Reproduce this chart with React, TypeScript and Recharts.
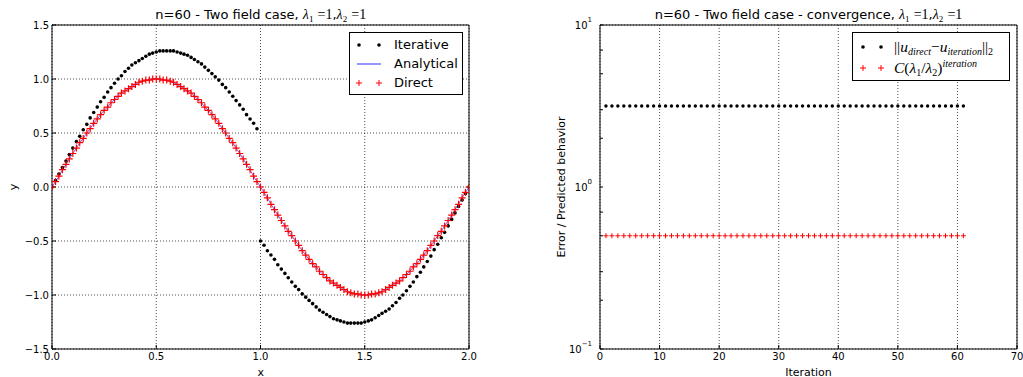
import React from 'react';
import { ComposedChart, Scatter, Line, XAxis, YAxis, CartesianGrid } from 'recharts';

// x grid of the two fields (n = 60 points each), 0 .. 2
const xs = [
  0, 0.017, 0.033, 0.05, 0.067, 0.083, 0.1, 0.117, 0.133, 0.15, 0.167, 0.183,
  0.2, 0.217, 0.233, 0.25, 0.267, 0.283, 0.3, 0.317, 0.333, 0.35, 0.367, 0.383,
  0.4, 0.417, 0.433, 0.45, 0.467, 0.483, 0.5, 0.517, 0.533, 0.55, 0.567, 0.583,
  0.6, 0.617, 0.633, 0.65, 0.667, 0.683, 0.7, 0.717, 0.733, 0.75, 0.767, 0.783,
  0.8, 0.817, 0.833, 0.85, 0.867, 0.883, 0.9, 0.917, 0.933, 0.95, 0.967, 0.983,
  1, 1.017, 1.033, 1.05, 1.067, 1.083, 1.1, 1.117, 1.133, 1.15, 1.167, 1.183,
  1.2, 1.217, 1.233, 1.25, 1.267, 1.283, 1.3, 1.317, 1.333, 1.35, 1.367, 1.383,
  1.4, 1.417, 1.433, 1.45, 1.467, 1.483, 1.5, 1.517, 1.533, 1.55, 1.567, 1.583,
  1.6, 1.617, 1.633, 1.65, 1.667, 1.683, 1.7, 1.717, 1.733, 1.75, 1.767, 1.783,
  1.8, 1.817, 1.833, 1.85, 1.867, 1.883, 1.9, 1.917, 1.933, 1.95, 1.967, 1.983,
  2,
];

// analytical curve (the direct solution sits on it)
const analytical = [
  0, 0.05, 0.1, 0.16, 0.21, 0.26, 0.31, 0.36, 0.41, 0.45, 0.5, 0.54, 0.59, 0.63, 0.67, 0.71,
  0.74, 0.78, 0.81, 0.84, 0.87, 0.89, 0.91, 0.93, 0.95, 0.97, 0.98, 0.99, 0.99, 1.0, 1.0,
  1.0, 0.99, 0.99, 0.98, 0.97, 0.95, 0.93, 0.91, 0.89, 0.87, 0.84, 0.81, 0.78, 0.74, 0.71,
  0.67, 0.63, 0.59, 0.54, 0.5, 0.45, 0.41, 0.36, 0.31, 0.26, 0.21, 0.16, 0.1, 0.05, 0,
  -0.05, -0.1, -0.16, -0.21, -0.26, -0.31, -0.36, -0.41, -0.45, -0.5, -0.54, -0.59, -0.63, -0.67, -0.71,
  -0.74, -0.78, -0.81, -0.84, -0.87, -0.89, -0.91, -0.93, -0.95, -0.97, -0.98, -0.99, -0.99, -1.0, -1.0,
  -1.0, -0.99, -0.99, -0.98, -0.97, -0.95, -0.93, -0.91, -0.89, -0.87, -0.84, -0.81, -0.78, -0.74, -0.71,
  -0.67, -0.63, -0.59, -0.54, -0.5, -0.45, -0.41, -0.36, -0.31, -0.26, -0.21, -0.16, -0.1, -0.05, 0,
];

const iterative = [
  0, 0.06, 0.12, 0.18, 0.24, 0.3, 0.36, 0.42, 0.47, 0.53, 0.58, 0.64, 0.69, 0.74, 0.79,
  0.83, 0.88, 0.92, 0.96, 1.0, 1.03, 1.07, 1.1, 1.13, 1.15, 1.17, 1.19, 1.21, 1.23, 1.24,
  1.25, 1.26, 1.26, 1.26, 1.26, 1.26, 1.25, 1.24, 1.23, 1.22, 1.2, 1.18, 1.16, 1.14, 1.11,
  1.08, 1.05, 1.02, 0.99, 0.95, 0.92, 0.88, 0.84, 0.8, 0.76, 0.72, 0.67, 0.63, 0.59, 0.54,
  -0.5, -0.54, -0.59, -0.63, -0.67, -0.72, -0.76, -0.8, -0.84, -0.88, -0.92, -0.95, -0.99, -1.02, -1.05,
  -1.08, -1.11, -1.14, -1.16, -1.18, -1.2, -1.22, -1.23, -1.24, -1.25, -1.26, -1.26, -1.26, -1.26, -1.26,
  -1.25, -1.24, -1.23, -1.21, -1.19, -1.17, -1.15, -1.13, -1.1, -1.07, -1.03, -1.0, -0.96, -0.92, -0.88,
  -0.83, -0.79, -0.74, -0.69, -0.64, -0.58, -0.53, -0.47, -0.42, -0.36, -0.3, -0.24, -0.18, -0.12, -0.06, 0,
];

const iterations = [
  1, 2, 3, 4, 5, 6, 7, 8, 9, 10, 11, 12, 13, 14, 15, 16, 17, 18, 19, 20,
  21, 22, 23, 24, 25, 26, 27, 28, 29, 30, 31, 32, 33, 34, 35, 36, 37, 38, 39, 40,
  41, 42, 43, 44, 45, 46, 47, 48, 49, 50, 51, 52, 53, 54, 55, 56, 57, 58, 59, 60, 61,
];

const errorNorm = [
  3.16, 3.16, 3.16, 3.16, 3.16, 3.16, 3.16, 3.16, 3.16, 3.16, 3.16, 3.16, 3.16, 3.16, 3.16, 3.16, 3.16, 3.16, 3.16, 3.16,
  3.16, 3.16, 3.16, 3.16, 3.16, 3.16, 3.16, 3.16, 3.16, 3.16, 3.16, 3.16, 3.16, 3.16, 3.16, 3.16, 3.16, 3.16, 3.16, 3.16,
  3.16, 3.16, 3.16, 3.16, 3.16, 3.16, 3.16, 3.16, 3.16, 3.16, 3.16, 3.16, 3.16, 3.16, 3.16, 3.16, 3.16, 3.16, 3.16, 3.16, 3.16,
];

const predicted = [
  0.5, 0.5, 0.5, 0.5, 0.5, 0.5, 0.5, 0.5, 0.5, 0.5, 0.5, 0.5, 0.5, 0.5, 0.5, 0.5, 0.5, 0.5, 0.5, 0.5,
  0.5, 0.5, 0.5, 0.5, 0.5, 0.5, 0.5, 0.5, 0.5, 0.5, 0.5, 0.5, 0.5, 0.5, 0.5, 0.5, 0.5, 0.5, 0.5, 0.5,
  0.5, 0.5, 0.5, 0.5, 0.5, 0.5, 0.5, 0.5, 0.5, 0.5, 0.5, 0.5, 0.5, 0.5, 0.5, 0.5, 0.5, 0.5, 0.5, 0.5, 0.5,
];

const xTicks = [0, 0.5, 1, 1.5, 2];
const yTicks = [-1.5, -1, -0.5, 0, 0.5, 1, 1.5];
const iterTicks = [0, 10, 20, 30, 40, 50, 60, 70];
const logMajor = [0.1, 1, 10];
const logAll = [0.1, 0.2, 0.3, 0.4, 0.5, 0.6, 0.7, 0.8, 0.9, 1, 2, 3, 4, 5, 6, 7, 8, 9, 10];

const fieldRows = xs.map((x, i) => ({
  x,
  analytical: analytical[i],
  direct: analytical[i],
  iterative: iterative[i],
}));
const convRows = iterations.map((it, i) => ({ it, err: errorNorm[i], pred: predicted[i] }));

const FONT = '"DejaVu Sans", Verdana, sans-serif';
const MATH = '"Liberation Serif", "DejaVu Serif", serif';
const tickStyle = { fill: '#000', fontSize: 10, fontFamily: FONT };
const gridProps = { stroke: '#000', strokeDasharray: '1 2', strokeWidth: 0.7 };

const fmtSigned = (v: number) => (v < 0 ? '\u2212' + Math.abs(v).toFixed(1) : v.toFixed(1));

const Dot = (r: number) => (p: any) => <circle cx={p.cx} cy={p.cy} r={r} fill="#000" />;
const Plus = (a: number, w: number) => (p: any) => (
  <path d={`M${p.cx - a},${p.cy}h${2 * a}M${p.cx},${p.cy - a}v${2 * a}`} stroke="#ff0000" strokeWidth={w} fill="none" />
);

const LogTick = (p: any) => {
  const v = p.payload.value;
  if (!logMajor.some((m) => Math.abs(m - v) < 1e-9)) return <g />;
  const exp = Math.round(Math.log10(v));
  return (
    <text x={p.x} y={p.y} textAnchor="end" dominantBaseline="central" fontFamily={FONT} fontSize={10} fill="#000">
      <tspan>10</tspan>
      <tspan dy={-5} fontSize={7}>{exp < 0 ? '\u2212' + Math.abs(exp) : exp}</tspan>
    </text>
  );
};

type Mark = 'dot' | 'line' | 'plus';

const LegendMark = ({ kind, xA, xB }: { kind: Mark; xA: number; xB: number }) => (
  <svg width={xB + 6} height={12} style={{ position: 'absolute', left: 0, top: -6 }}>
    {kind === 'line' && <line x1={xA - 2} x2={xB + 2} y1={6} y2={6} stroke="#0000ff" strokeOpacity={0.55} strokeWidth={1.5} />}
    {kind === 'dot' && [xA, xB].map((cx) => <circle key={cx} cx={cx} cy={6} r={1.8} fill="#000" />)}
    {kind === 'plus' &&
      [xA, xB].map((cx) => <path key={cx} d={`M${cx - 3},6h6M${cx},3v6`} stroke="#ff0000" strokeWidth={1} />)}
  </svg>
);

interface LegendRow {
  kind: Mark;
  label: React.ReactNode;
  cy: number;
}

const LegendBox = ({ left, top, width, height, rows, xA, xB, textX }: {
  left: number; top: number; width: number; height: number; rows: LegendRow[]; xA: number; xB: number; textX: number;
}) => (
  <div style={{ position: 'absolute', left, top, width, height, border: '1px solid #000', boxSizing: 'border-box', background: '#fff' }}>
    {rows.map((r, i) => (
      <div key={i} style={{ position: 'absolute', left: 0, top: r.cy, width: '100%' }}>
        <LegendMark kind={r.kind} xA={xA} xB={xB} />
        <div style={{ position: 'absolute', left: textX, top: 0, transform: 'translateY(-50%)', whiteSpace: 'nowrap', fontFamily: FONT, fontSize: 13, lineHeight: '16px' }}>
          {r.label}
        </div>
      </div>
    ))}
  </div>
);

const Lam = ({ n }: { n: number }) => (
  <span style={{ fontFamily: MATH, fontStyle: 'italic', fontSize: 14 }}>
    λ<sub style={{ fontSize: 9, fontStyle: 'normal' }}>{n}</sub>
  </span>
);
const Eq1 = () => <span style={{ fontFamily: MATH, fontSize: 14 }}>=1</span>;

const Text = ({ x, y, size, rotate, children }: { x: number; y: number; size: number; rotate?: boolean; children: React.ReactNode }) => (
  <div
    style={{
      position: 'absolute', left: x, top: y, whiteSpace: 'nowrap', fontFamily: FONT, fontSize: size, lineHeight: 1,
      transform: `translate(-50%,-50%)${rotate ? ' rotate(-90deg)' : ''}`,
    }}
  >
    {children}
  </div>
);

// small raised / lowered pieces of the legend formulas
const Lo = ({ children }: { children: React.ReactNode }) => (
  <span style={{ fontSize: 10, position: 'relative', top: 3, lineHeight: 0 }}>{children}</span>
);
const Hi = ({ children }: { children: React.ReactNode }) => (
  <span style={{ fontSize: 10, position: 'relative', top: -6, lineHeight: 0 }}>{children}</span>
);

export default function App() {
  return (
    <div style={{ position: 'absolute', left: 0, top: 0, width: 1023, height: 377, background: '#fff', overflow: 'hidden' }}>
      <div style={{ position: 'absolute', left: 0, top: 0 }}>
        <ComposedChart width={480} height={377} data={fieldRows} margin={{ top: 24, right: 10, bottom: 8, left: 0 }}>
          <CartesianGrid {...gridProps} />
          <XAxis type="number" dataKey="x" domain={[0, 2]} ticks={xTicks} tickFormatter={(v) => v.toFixed(1)}
            height={20} tickSize={-4} tickMargin={8} stroke="#000" tick={tickStyle} allowDataOverflow />
          <XAxis xAxisId="top" orientation="top" type="number" dataKey="x" domain={[0, 2]} ticks={xTicks}
            height={1} tick={false} tickSize={-4} stroke="#000" allowDataOverflow />
          <YAxis type="number" domain={[-1.5, 1.5]} ticks={yTicks} width={52} tickSize={-4} tickMargin={7}
            tickFormatter={fmtSigned} stroke="#000" tick={tickStyle} allowDataOverflow />
          <YAxis yAxisId="right" orientation="right" type="number" domain={[-1.5, 1.5]} ticks={yTicks}
            width={1} tick={false} tickSize={-4} stroke="#000" allowDataOverflow />
          <Scatter dataKey="iterative" shape={Dot(1.8)} isAnimationActive={false} />
          <Line dataKey="analytical" type="linear" stroke="#0000ff" strokeOpacity={0.6} strokeWidth={1} dot={false} isAnimationActive={false} />
          <Scatter dataKey="direct" shape={Plus(3.5, 1.2)} isAnimationActive={false} />
        </ComposedChart>
      </div>

      <div style={{ position: 'absolute', left: 540, top: 0 }}>
        <ComposedChart width={483} height={377} data={convRows} margin={{ top: 24, right: 5, bottom: 8, left: 0 }}>
          <CartesianGrid {...gridProps} yAxisId="r" />
          <XAxis type="number" dataKey="it" domain={[0, 70]} ticks={iterTicks} height={20} tickSize={-4}
            tickMargin={8} stroke="#000" tick={tickStyle} allowDataOverflow />
          <XAxis xAxisId="top" orientation="top" type="number" dataKey="it" domain={[0, 70]} ticks={iterTicks}
            height={1} tick={false} tickSize={-4} stroke="#000" allowDataOverflow />
          <YAxis yAxisId="l" scale="log" type="number" domain={[0.1, 10]} ticks={logAll} width={60} tickSize={-3}
            tickMargin={11} stroke="#000" tick={LogTick} allowDataOverflow />
          <YAxis yAxisId="r" orientation="right" scale="log" type="number" domain={[0.1, 10]} ticks={logMajor}
            width={1} tick={false} tickSize={-4} stroke="#000" allowDataOverflow />
          <Scatter yAxisId="l" dataKey="err" shape={Dot(1.7)} isAnimationActive={false} />
          <Scatter yAxisId="l" dataKey="pred" shape={Plus(2.5, 1)} isAnimationActive={false} />
        </ComposedChart>
      </div>

      <Text x={260.8} y={16} size={13}>
        n=60 - Two field case, <Lam n={1} /> <Eq1 />,<Lam n={2} /> <Eq1 />
      </Text>
      <Text x={808.5} y={16} size={13}>
        n=60 - Two field case - convergence, <Lam n={1} /> <Eq1 />,<Lam n={2} /> <Eq1 />
      </Text>
      <Text x={260.8} y={372} size={11}>x</Text>
      <Text x={13} y={187} size={11} rotate>y</Text>
      <Text x={808.5} y={372} size={11}>Iteration</Text>
      <Text x={561} y={187} size={11} rotate>Error / Predicted behavior</Text>

      <LegendBox
        left={349} top={32} width={114} height={63} xA={9} xB={29} textX={44}
        rows={[
          { kind: 'dot', label: 'Iterative', cy: 12 },
          { kind: 'line', label: 'Analytical', cy: 31 },
          { kind: 'plus', label: 'Direct', cy: 50 },
        ]}
      />
      <LegendBox
        left={852} top={32} width={158} height={49} xA={10} xB={28} textX={41}
        rows={[
          {
            kind: 'dot', cy: 14,
            label: (
              <span style={{ fontFamily: MATH, fontSize: 15.5 }}>
                ||<i>u</i><Lo><i>direct</i></Lo>−<i>u</i><Lo><i>iteration</i></Lo>||<Lo>2</Lo>
              </span>
            ),
          },
          {
            kind: 'plus', cy: 35,
            label: (
              <span style={{ fontFamily: MATH, fontSize: 15.5 }}>
                <i>C</i>(<i>λ</i><Lo>1</Lo>/<i>λ</i><Lo>2</Lo>)<Hi><i>iteration</i></Hi>
              </span>
            ),
          },
        ]}
      />
    </div>
  );
}
